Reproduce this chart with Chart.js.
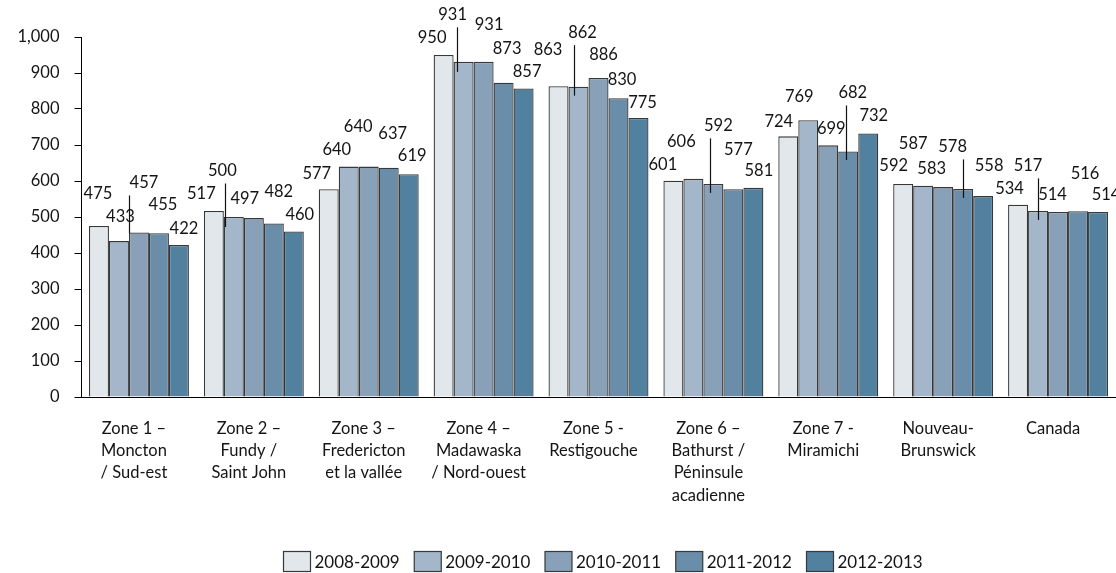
<!DOCTYPE html>
<html>
<head>
<meta charset="utf-8">
<script src="https://cdn.jsdelivr.net/npm/chart.js@4.4.1/dist/chart.umd.min.js"></script>
<style>
  html, body { margin: 0; padding: 0; background: #ffffff; }
  #wrap { width: 1116px; height: 573px; position: relative; }
</style>
</head>
<body>
<div id="wrap"><canvas id="chart" width="1116" height="573"></canvas></div>
<script>
// Categories (health zones) and yearly series values
const categories = [
  ["Zone 1 –", "Moncton", "/ Sud-est"],
  ["Zone 2 –", "Fundy /", "Saint John"],
  ["Zone 3 –", "Fredericton", "et la vallée"],
  ["Zone 4 –", "Madawaska", "/ Nord-ouest"],
  ["Zone 5 -", "Restigouche"],
  ["Zone 6 –", "Bathurst /", "Péninsule", "acadienne"],
  ["Zone 7 -", "Miramichi"],
  ["Nouveau-", "Brunswick"],
  ["Canada"]
];
const seriesNames = ["2008-2009", "2009-2010", "2010-2011", "2011-2012", "2012-2013"];
const v2008_2009 = [475, 517, 577, 950, 863, 601, 724, 592, 534];
const v2009_2010 = [433, 500, 640, 931, 862, 606, 769, 587, 517];
const v2010_2011 = [457, 497, 640, 931, 886, 592, 699, 583, 514];
const v2011_2012 = [455, 482, 637, 873, 830, 577, 682, 578, 516];
const v2012_2013 = [422, 460, 619, 857, 775, 581, 732, 558, 514];
const yTicks = [0, 100, 200, 300, 400, 500, 600, 700, 800, 900, 1000];

// Styling
const barColors = ["#E2E7EB", "#A3B6CA", "#88A1B8", "#6A8DAA", "#52809F"];
const edgeColor = "#383838";
const textColor = "#141414";
const FONT = "Lato, 'Open Sans', sans-serif";

// Value-label placement: [dx, rise above bar top] in px, per series / category
const labelPlacement = [
  [[-1,33],[-12.5,18],[-12,17],[-11.5,18],[-10.5,38],[-10.5,17],[-9.5,16],[-9.5,19],[-8.5,17]],
  [[1.5,25],[-11.5,47],[-12,18],[-11,48],[4,55],[-12,38],[-9,24],[-10,43],[-10,46]],
  [[5,50.5],[-9,20],[-10.5,41],[5.5,38],[5,24],[5,59],[3,18],[-11.5,19],[-5.5,18]],
  [[4,30],[5,32.5],[4,35],[3.5,35],[3.5,20],[5,41],[4.5,59.5],[-10.5,43],[7,39]],
  [[5,17],[6,18],[3.5,19],[3.5,17.5],[4,16],[5.5,18],[5.5,18.5],[6,31],[8,18]]
];
// Leader lines: [dx from bar centre, depth below bar top] or null
const leaderLines = [
  [null, null, null, null, null, null, null, null, null],
  [null, [-8.5,10], null, [-6.5,10], [-5,9], null, null, null, [0,9]],
  [[-10,0.5], null, null, null, null, [-3,9], null, null, null],
  [null, null, null, null, null, null, [-2,8.5], [0,9], null],
  [null, null, null, null, null, null, null, null, null]
];

const seriesValues = [v2008_2009, v2009_2010, v2010_2011, v2011_2012, v2012_2013];

const datasets = seriesNames.map((name, i) => ({
  label: name,
  data: seriesValues[i],
  backgroundColor: barColors[i],
  borderColor: edgeColor,
  borderWidth: 1.3,
  barPercentage: 1.0,
  categoryPercentage: 0.87
}));

// Draws the value labels with their leader lines
const valueLabels = {
  id: "valueLabels",
  afterDatasetsDraw(chart) {
    const ctx = chart.ctx;
    ctx.save();
    ctx.font = "16.5px " + FONT;
    ctx.fillStyle = textColor;
    ctx.textAlign = "center";
    ctx.textBaseline = "middle";
    chart.data.datasets.forEach((ds, i) => {
      const meta = chart.getDatasetMeta(i);
      meta.data.forEach((bar, j) => {
        const [dx, rise] = labelPlacement[i][j];
        const lx = bar.x + dx;
        const ly = bar.y - rise;
        ctx.fillText(ds.data[j].toLocaleString("en-US"), lx, ly + 1);
        const lead = leaderLines[i][j];
        if (lead) {
          ctx.beginPath();
          ctx.strokeStyle = "#111";
          ctx.lineWidth = 1.2;
          const x = Math.round(bar.x + lead[0]) + 0.5;
          ctx.moveTo(x, ly + 13.5);
          ctx.lineTo(x, bar.y + lead[1]);
          ctx.stroke();
        }
      });
    });
    ctx.restore();
  }
};

// Legend row under the chart
const legendRow = {
  id: "legendRow",
  afterDraw(chart) {
    const ctx = chart.ctx;
    ctx.save();
    ctx.font = "17px " + FONT;
    ctx.textBaseline = "middle";
    ctx.textAlign = "left";
    const startX = 283.5, pitch = 130.75, boxW = 27, boxH = 20, boxY = 551.5;
    chart.data.datasets.forEach((ds, i) => {
      const x = startX + i * pitch;
      ctx.fillStyle = ds.backgroundColor;
      ctx.fillRect(x, boxY, boxW, boxH);
      ctx.strokeStyle = edgeColor;
      ctx.lineWidth = 1.2;
      ctx.strokeRect(x, boxY, boxW, boxH);
      ctx.fillStyle = textColor;
      ctx.fillText(ds.label, x + boxW + 4, boxY + boxH / 2 + 1);
    });
    ctx.restore();
  }
};

new Chart(document.getElementById("chart"), {
  type: "bar",
  data: { labels: categories, datasets },
  options: {
    responsive: false,
    animation: false,
    layout: { padding: { top: 37, right: 0.5, left: 0, bottom: 0 } },
    plugins: {
      legend: { display: false },
      tooltip: { enabled: false }
    },
    scales: {
      x: {
        grid: { display: false, drawTicks: false },
        border: { display: true, color: "#000", width: 1 },
        ticks: {
          color: textColor,
          font: { family: FONT, size: 16.5, lineHeight: 1.36 },
          padding: 20,
          labelOffset: -5,
          maxRotation: 0,
          autoSkip: false
        },
        afterFit(scale) { scale.height = 176; }
      },
      y: {
        min: 0,
        max: 1000,
        afterBuildTicks(scale) { scale.ticks = yTicks.map(v => ({ value: v })); },
        grid: { drawOnChartArea: false, drawTicks: true, tickLength: 7, color: "#000" },
        border: { display: true, color: "#000", width: 1 },
        ticks: {
          color: textColor,
          font: { family: FONT, size: 16.5 },
          padding: 15,
          callback: v => Number(v).toLocaleString("en-US")
        },
        afterFit(scale) { scale.width = 81.5; }
      }
    }
  },
  plugins: [valueLabels, legendRow]
});
</script>
</body>
</html>
